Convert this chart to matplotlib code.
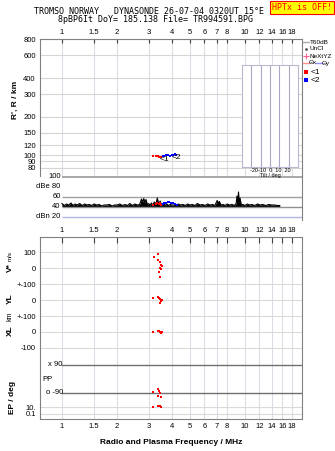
import math
import matplotlib
matplotlib.use('Agg')
import matplotlib.pyplot as plt
from matplotlib.ticker import FixedLocator, NullLocator

plt.rcParams['font.family'] = ['Liberation Sans', 'DejaVu Sans']

# frequency axis
freq_ticks = [1, 1.5, 2, 3, 4, 5, 6, 7, 8, 10, 12, 14, 16, 18]
freq_labels = ['1', '1.5', '2', '3', '4', '5', '6', '7', '8', '10', '12', '14', '16', '18']

# virtual range panel
r_ticks = [800, 600, 400, 300, 200, 150, 120, 100, 90, 80]
red_f = [3.14, 3.28, 3.33, 3.38, 3.44, 3.50]
red_r = [98, 99, 98.5, 97, 96.5, 97.5]
blue_f = [3.55, 3.62, 3.70, 3.79, 3.88, 3.97, 4.06, 4.15, 4.22]
blue_r = [98.5, 99, 100, 100, 99.5, 100.5, 101, 101.5, 101]

# noise / amplitude panel (dB)
noise_f = [1.00, 1.03, 1.06, 1.09, 1.12, 1.15, 1.18, 1.21, 1.25, 1.29,
           1.33, 1.37, 1.41, 1.45, 1.50, 1.55, 1.60, 1.65, 1.70, 1.76,
           1.82, 1.88, 1.94, 2.00, 2.07, 2.14, 2.21, 2.28, 2.35, 2.42,
           2.50, 2.58, 2.66, 2.72, 2.76, 2.80, 2.84, 2.88, 2.93, 2.98,
           3.03, 3.08, 3.14, 3.20, 3.26, 3.32, 3.38, 3.44, 3.50, 3.58,
           3.66, 3.74, 3.82, 3.90, 4.00, 4.10, 4.20, 4.32, 4.45, 4.58,
           4.72, 4.86, 5.00, 5.16, 5.32, 5.50, 5.68, 5.86, 6.05, 6.25,
           6.45, 6.65, 6.85, 7.05, 7.15, 7.25, 7.40, 7.60, 7.80, 8.00,
           8.25, 8.50, 8.75, 8.95, 9.05, 9.15, 9.22, 9.30, 9.40, 9.55,
           9.75, 10.0, 10.3, 10.6, 10.9, 11.3, 11.7, 12.1, 12.5, 13.0,
           13.5, 14.0, 14.5, 15.0, 15.5]
noise_db = [47, 43, 46, 44, 48, 43, 46, 44, 47, 43,
            46, 44, 45, 43, 46, 44, 45, 42, 44, 44,
            45, 42, 44, 44, 46, 43, 45, 43, 47, 43,
            46, 44, 45, 56, 50, 57, 48, 55, 44, 47,
            43, 48, 44, 50, 45, 58, 45, 52, 44, 47,
            43, 46, 43, 45, 44, 44, 43, 46, 44, 45,
            43, 46, 44, 45, 43, 47, 44, 45, 43, 46,
            44, 45, 43, 53, 48, 51, 44, 45, 43, 46,
            44, 45, 43, 47, 62, 50, 70, 47, 58, 44,
            45, 43, 46, 44, 45, 43, 46, 44, 45, 43,
            45, 44, 44, 43, 43]
red_db_f = [3.14, 3.25, 3.32, 3.38, 3.45, 3.50]
red_db = [44, 46, 49, 47, 48, 45]
blue_db_f = [3.55, 3.62, 3.70, 3.78, 3.86, 3.95, 4.05, 4.15, 4.25]
blue_db = [46, 48, 49, 50, 50, 49, 48, 47, 45]

# lower panel: V*, YL, XL, PP, EP
vs_f = [3.37, 3.18, 3.34, 3.43, 3.49, 3.52, 3.45, 3.47, 3.39, 3.43]
vs = [88, 70, 50, 40, 19, 12, 0, -6, -25, -54]
yl_f = [3.14, 3.34, 3.40, 3.45, 3.50, 3.47, 3.44, 3.52]
yl = [10, 16, 10, 6, 0, -6, -17, 3]
xl_f = [3.14, 3.34, 3.40, 3.45, 3.50, 3.47, 3.52]
xl = [2, 4, 6, -2, 3, -4, 1]
pp_f = [3.14, 3.37, 3.40, 3.45, 3.35, 3.50]
pp = [-82, -64, -75, -92, -109, -114]
ep_f = [3.14, 3.33, 3.38, 3.45, 3.50]
ep = [12, 20, 18, 15, 13]

# band offsets in the lower panel (common vertical unit)
YL_OFF, XL_OFF = -200, -400
X90_U, O90_U = -606, -781
EP10_U, EP01_U = -869, -912
low_ticks = [100, 0, -100, -200, -300, -400, -500, EP10_U, EP01_U]
low_labels = ['100', '0', '+-100', '0', '+-100', '0', '-100', '10.', '0.1']

W, H = 335, 451
fig = plt.figure(figsize=(W / 100, H / 100), dpi=100)


def box(x0, y0, x1, y1):
    return [x0 / W, 1 - y1 / H, (x1 - x0) / W, (y1 - y0) / H]


FLIM = (0.759, 20.5)
grid_c = '#dcdce6'
spine_c = '#808080'
fs = 5.5


def freq_axis(ax, grid=True):
    ax.set_xscale('log')
    ax.set_xlim(*FLIM)
    ax.xaxis.set_major_locator(FixedLocator(freq_ticks))
    ax.xaxis.set_minor_locator(NullLocator())
    ax.set_xticklabels(freq_labels)
    if grid:
        for f in freq_ticks:
            ax.axvline(f, color=grid_c, lw=0.8, zorder=0)
    for s in ax.spines.values():
        s.set_color(spine_c)


# ---- top panel: R', R / km
ax1 = fig.add_axes(box(40, 39, 302, 176))
freq_axis(ax1)
ax1.set_yscale('log')
ax1.set_ylim(69, 806)
ax1.yaxis.set_major_locator(FixedLocator(r_ticks))
ax1.yaxis.set_minor_locator(NullLocator())
ax1.set_yticklabels([str(v) for v in r_ticks])
for r in r_ticks:
    ax1.axhline(r, color='#d6d6d6', lw=0.8, zorder=0)
ax1.spines['bottom'].set_visible(False)
ax1.tick_params(axis='x', which='both', top=True, bottom=False, labeltop=True,
                labelbottom=False, direction='in', length=3, width=0.8,
                color='#444444', labelsize=fs, pad=2)
ax1.tick_params(axis='y', length=0, labelsize=fs, pad=3)
ax1.plot(red_f, red_r, 's', color='red', ms=2, mew=0)
ax1.plot(blue_f, blue_r, 's', color='#0000ff', ms=2, mew=0)
ax1.text(3.43, 93, '<1', fontsize=6, ha='left', va='center')
ax1.text(3.99, 95.5, '<2', fontsize=6, ha='left', va='center')

# tilt inset
axin = fig.add_axes(box(242, 65, 298, 167))
axin.set_xlim(-30, 30)
axin.set_ylim(0, 1)
for t in [-20, -10, 0, 10, 20]:
    axin.axvline(t, color='#a8a8c8', lw=0.8)
axin.set_xticks([])
axin.set_yticks([])
for s in axin.spines.values():
    s.set_color('#b8b8d0')

# ---- middle panel: dB
ax2 = fig.add_axes(box(40, 176, 302, 220))
freq_axis(ax2, grid=False)
ax2.set_ylim(14, 102)
ax2.patch.set_visible(False)
for side in ['left', 'top', 'bottom']:
    ax2.spines[side].set_visible(False)
ax2.set_yticks([])
ax2.tick_params(axis='x', length=0, labelsize=fs, pad=5)
ax2.hlines(100, 1, FLIM[1], color='#999999', lw=1.2)
ax2.hlines(60, 1, FLIM[1], color='#a0a0a0', lw=1.0)
ax2.hlines(40, 1, FLIM[1], color='#909090', lw=1.0)
ax2.hlines(20, 1, FLIM[1], color='#b4b4e4', lw=1.0)
for v, lab in [(100, '100'), (80, 'dBe 80'), (60, '60'), (40, '40'), (20, 'dBn 20')]:
    ax2.text(0.985, v, lab, fontsize=fs, ha='right', va='center')
ax2.fill_between(noise_f, 41, noise_db, color='black', lw=0)
ax2.plot(noise_f, noise_db, color='black', lw=0.8)
ax2.plot(red_db_f, red_db, 's', color='red', ms=2, mew=0)
ax2.plot(blue_db_f, blue_db, 's', color='#0000ff', ms=2, mew=0)

# ---- bottom panel
ax3 = fig.add_axes(box(40, 237, 302, 419))
freq_axis(ax3)
ax3.set_ylim(-944, 194)
ax3.yaxis.set_major_locator(FixedLocator(low_ticks))
ax3.set_yticklabels(low_labels)
for u in low_ticks:
    ax3.axhline(u, color='#dadada', lw=0.8, zorder=0)
x0_frac = 22 / 262
ax3.axhline(X90_U, xmin=x0_frac, color='#707070', lw=1.0)
ax3.axhline(O90_U, xmin=x0_frac, color='#707070', lw=1.0)
ax3.text(0.84, X90_U, 'x 90', fontsize=fs, ha='left', va='center')
ax3.text(0.82, O90_U, 'o -90', fontsize=fs, ha='left', va='center')
ax3.text(0.78, -700, 'PP', fontsize=fs, ha='left', va='center')
ax3.tick_params(axis='x', top=True, bottom=False, direction='in', length=4,
                width=0.8, color='#444444', labelsize=fs, pad=3)
ax3.tick_params(axis='y', length=0, labelsize=fs, pad=3)

ax3.plot(vs_f, vs, 's', color='red', ms=2, mew=0)
ax3.plot(yl_f, [v + YL_OFF for v in yl], 's', color='red', ms=2, mew=0)
ax3.plot(xl_f, [v + XL_OFF for v in xl], 's', color='red', ms=2, mew=0)
pp_u = [O90_U + (p + 90) * (X90_U - O90_U) / 180 for p in pp]
ax3.plot(pp_f, pp_u, 's', color='red', ms=2, mew=0)
ep_u = [EP10_U + math.log10(e / 10) * (EP10_U - EP01_U) / 2 for e in ep]
ax3.plot(ep_f, ep_u, 's', color='red', ms=2, mew=0)
ax3.set_xlabel('Radio and Plasma Frequency / MHz', fontsize=6, fontweight='bold',
               labelpad=6)

# ---- overlay for header, side labels and legend (pixel coordinates)
ov = fig.add_axes([0, 0, 1, 1], zorder=10)
ov.set_xlim(0, W)
ov.set_ylim(H, 0)
ov.axis('off')

mono = 'DejaVu Sans Mono'
ov.text(149, 12, 'TROMSO NORWAY   DYNASONDE 26-07-04 0320UT 15\u00b0E',
        family=mono, fontsize=6, ha='center', va='center')
ov.text(156, 20, '8pBP6It DoY= 185.138 File= TR994591.BPG',
        family=mono, fontsize=6, ha='center', va='center')
ov.text(302, 7.5, 'HPTx is OFF!', family=mono, fontsize=6, color='red',
        ha='center', va='center',
        bbox=dict(boxstyle='square,pad=0.2', fc='#ffff00', ec='red', lw=0.8))

ov.text(15, 100, "R', R / km", rotation=90, fontsize=6, fontweight='bold',
        ha='center', va='center')
ov.text(10, 268, 'V*', rotation=90, fontsize=6, fontweight='bold', ha='center', va='center')
ov.text(10, 256, 'm/s', rotation=90, fontsize=4.5, ha='center', va='center')
ov.text(10, 299, 'YL', rotation=90, fontsize=6, fontweight='bold', ha='center', va='center')
ov.text(10, 316, 'km', rotation=90, fontsize=5, ha='center', va='center')
ov.text(10, 331, 'XL', rotation=90, fontsize=6, fontweight='bold', ha='center', va='center')
ov.text(12, 397, 'EP / deg', rotation=90, fontsize=6, fontweight='bold',
        ha='center', va='center')

# tilt inset labels
ov.text(270, 170, '-20-10  0  10  20', fontsize=4, ha='center', va='center')
ov.text(270, 175, 'Tilt / deg', fontsize=4, ha='center', va='center')

# legend
ov.plot([303, 309], [42, 42], color='#aaaaaa', lw=1)
ov.text(310, 42, 'T60dB', fontsize=4.6, va='center')
ov.plot([306], [49], '.', color='#555555', ms=2)
ov.text(310, 49, 'UnCl', fontsize=4.6, va='center')
ov.plot([306], [56], '+', color='#ff6090', ms=4, mew=0.8)
ov.text(310, 56, 'NeXtYZ', fontsize=4.6, va='center')
ov.plot([303, 309], [63, 63], color='#ff9090', lw=1)
ov.text(309, 63, '\u0398x', fontsize=4.6, va='center')
ov.plot([316, 322], [63, 63], color='#9090ff', lw=1)
ov.text(322, 63, '\u0398y', fontsize=4.6, va='center')
ov.plot([306], [72], 's', color='red', ms=2.2, mew=0)
ov.text(311, 72, '<1', fontsize=6, va='center')
ov.plot([306], [80], 's', color='#0000ff', ms=2.2, mew=0)
ov.text(311, 80, '<2', fontsize=6, va='center')

fig.savefig('out.png', dpi=100)
